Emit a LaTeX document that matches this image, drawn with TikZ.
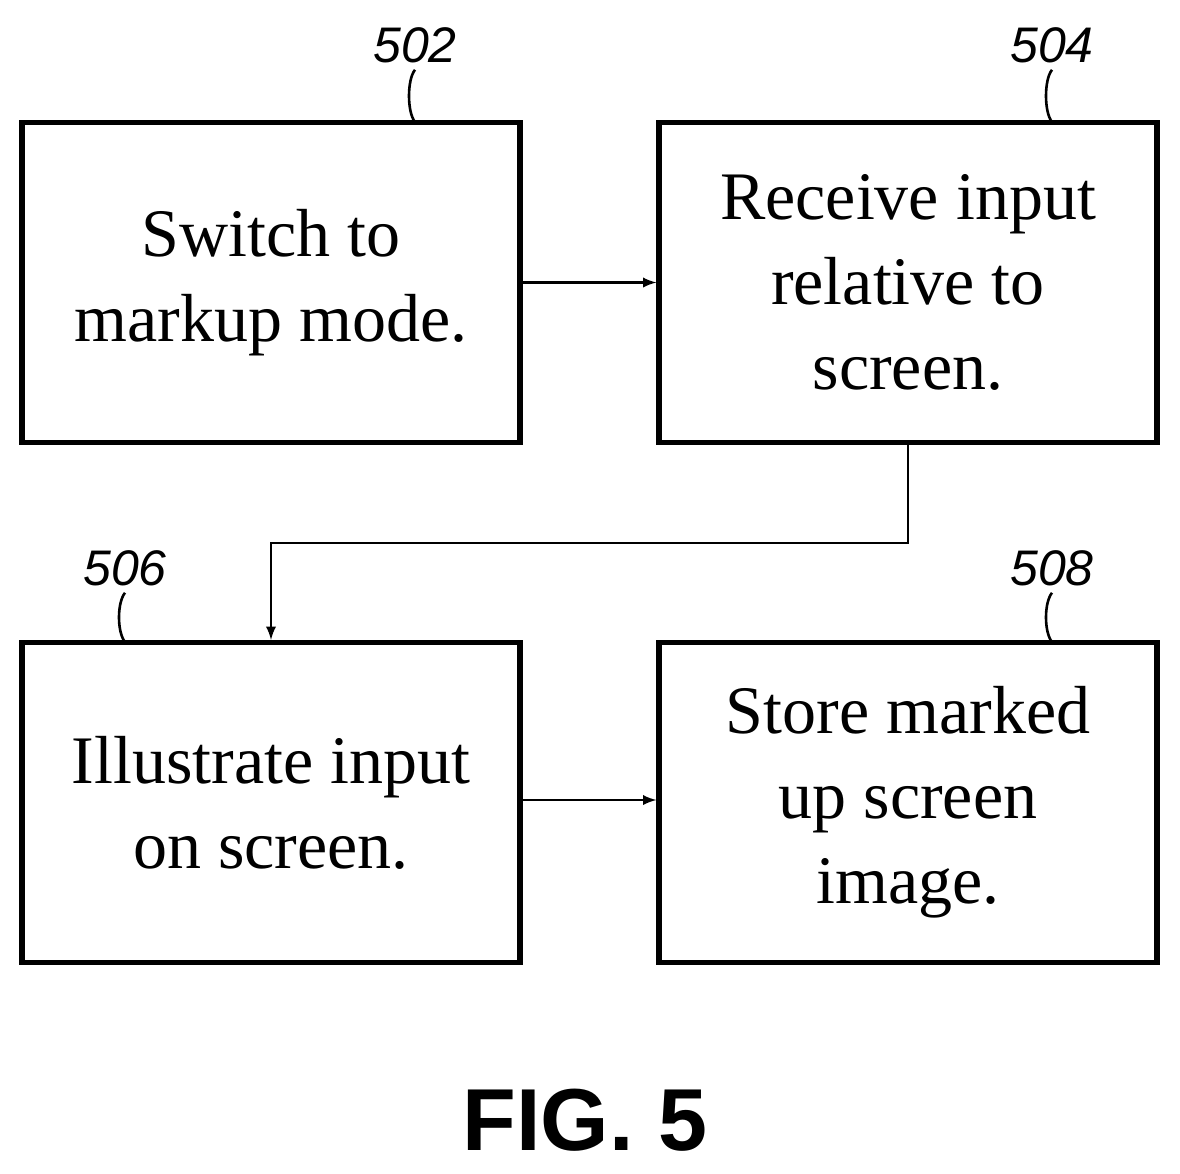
\documentclass[tikz,border=0pt]{standalone}
\usepackage{fontspec}
\setmainfont{Liberation Serif}
\newfontfamily\labelfont{Liberation Sans}
\usetikzlibrary{positioning}
\begin{document}
\begin{tikzpicture}[
    x=0.5pt, y=-0.5pt,
    >=latex,
    box/.style   = {draw, line width=2.6pt, minimum width=249pt, minimum height=160pt,
                    align=center, inner sep=0pt, font=\fontsize{34}{42.5}\selectfont},
    flow/.style  = {->, line width=1.3pt, shorten >=0pt},
    refnum/.style= {font=\labelfont\itshape\fontsize{25}{25}\selectfont},
    lead/.style  = {line width=1.3pt},
  ]
  \useasboundingbox (0,0) rectangle (1180,1174);

  % Kaesten
  \node[box] (s502) at (271,282.5) {Switch to\\markup mode.};
  \node[box] (s504) at (908,282.5) {Receive input\\relative to\\screen.};
  \node[box] (s506) at (271,802.5) {Illustrate input\\on screen.};
  \node[box] (s508) at (908,802.5) {Store marked\\up screen\\image.};

  % Bezugszeichen
  \node[refnum] (n502) at (415,45) {502};
  \node[refnum] (n504) at (1052,45) {504};
  \node[refnum] (n506) at (125,568) {506};
  \node[refnum] (n508) at (1052,568) {508};
  \foreach \n/\x/\y in {502/415/122, 504/1052/122, 506/125/642, 508/1052/642}
    \draw[lead] (n\n.south) .. controls +(-8,10) and +(-8,-10) .. (\x,\y);

  % Pfeile
  \draw[flow] (s502.east) -- (s504.west);
  \coordinate (bend) at (908,543);
  \draw[flow] (s504.south) -- (bend) -| (s506.north);
  \draw[flow] (s506.east |- 0,800) -- (s508.west |- 0,800);

  \node[font=\labelfont\bfseries\fontsize{44}{44}\selectfont] (fig) at (585,1120) {FIG. 5};
\end{tikzpicture}
\end{document}
